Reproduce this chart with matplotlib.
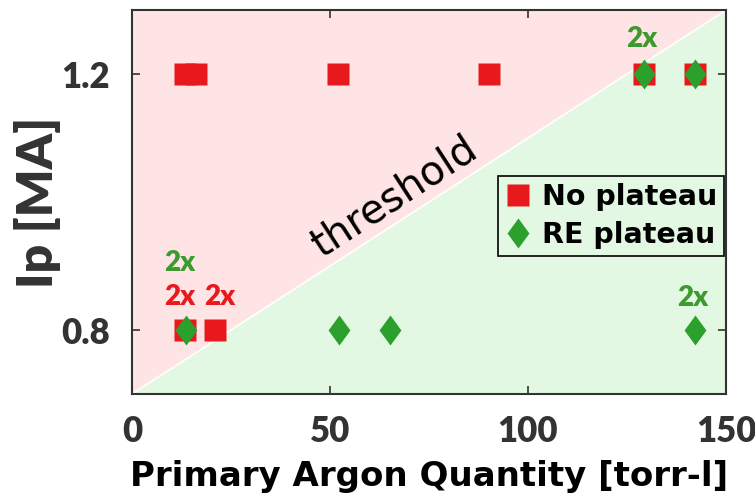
import numpy as np
import matplotlib
matplotlib.use("Agg")
import matplotlib.pyplot as plt

# data
no_plateau_x = [13.3, 16.2, 52.0, 90.2, 129.3, 142.2, 13.3, 21.0]
no_plateau_y = [1.2, 1.2, 1.2, 1.2, 1.2, 1.2, 0.8, 0.8]
re_plateau_x = [129.3, 142.2, 13.6, 52.3, 65.2, 142.2]
re_plateau_y = [1.2, 1.2, 0.8, 0.8, 0.8, 0.8]

threshold_x = [0, 150]
threshold_y = [0.7, 1.3]

# "2x" annotations: (x, y, colour)
notes_x = [128.8, 12.1, 12.1, 22.2, 141.7]
notes_y = [1.255, 0.905, 0.852, 0.852, 0.85]
notes_c = ["g", "g", "r", "r", "g"]

red = "#e8191c"
green = "#2ca02c"
green_txt = "#3c9a2e"
pink_bg = "#ffe4e6"
green_bg = "#e3f8e3"
ink = "#333333"

plt.rcParams['font.family'] = ['DejaVu Sans']

fig = plt.figure(figsize=(7.55, 4.95), dpi=100)
ax = fig.add_axes([0.1748, 0.204, 0.7868, 0.7758])

tx = np.array(threshold_x, dtype=float)
ty = np.array(threshold_y, dtype=float)
ax.fill_between(tx, ty, 1.3, color=pink_bg, lw=0, zorder=0)
ax.fill_between(tx, 0.7, ty, color=green_bg, lw=0, zorder=0)
ax.plot(tx, ty, color="white", lw=1.2, zorder=1)

diamond = [(0, 1), (0.73, 0), (0, -1), (-0.73, 0), (0, 1)]

ax.plot(no_plateau_x, no_plateau_y, ls="none", marker="s", ms=15.8,
        color=red, mec="none", label="No plateau", zorder=3)
ax.plot(re_plateau_x, re_plateau_y, ls="none", marker=diamond, ms=21.6,
        color=green, mec="none", label="RE plateau", zorder=4)

for x, y, c in zip(notes_x, notes_y, notes_c):
    ax.text(x, y, "2x", color=(green_txt if c == "g" else red),
            fontsize=20, fontweight="heavy", family=["Lato", "DejaVu Sans"],
            ha="center", va="center", zorder=5)

ax.text(66.4, 1.008, "threshold", fontsize=29, rotation=33,
        rotation_mode="anchor", ha="center", va="center",
        color="black", zorder=2)

ax.set_xlim(0, 150)
ax.set_ylim(0.7, 1.3)
ax.set_xticks([0, 50, 100, 150])
ax.set_yticks([0.8, 1.2])
ax.tick_params(direction="in", length=6, width=1.2, top=True, right=True,
               labelsize=25, colors=ink)
ax.tick_params(axis="x", pad=15)
ax.tick_params(axis="y", pad=16)
for lab in ax.get_xticklabels() + ax.get_yticklabels():
    lab.set_fontweight("heavy")
    lab.set_family(["Lato", "DejaVu Sans"])
for s in ax.spines.values():
    s.set_color(ink)
    s.set_linewidth(1.5)

ax.set_xlabel("Primary Argon Quantity [torr-l]", fontsize=24.5,
              fontweight="bold", color="black", labelpad=8.5)
ax.set_ylabel("Ip [MA]", fontsize=36, fontweight="heavy", color=ink,
              family=["Lato", "DejaVu Sans"], labelpad=0)

leg = ax.legend(loc="upper right", bbox_to_anchor=(0.997, 0.567),
                borderaxespad=0, frameon=True, fancybox=False,
                handlelength=0.9, handletextpad=0.4, borderpad=0.25,
                labelspacing=0.35, prop={"weight": "bold", "size": 20.5})
leg.get_frame().set_edgecolor("black")
leg.get_frame().set_linewidth(1.2)
leg.get_frame().set_facecolor(green_bg)
leg.get_frame().set_alpha(1)

fig.savefig("out.png", dpi=100)
